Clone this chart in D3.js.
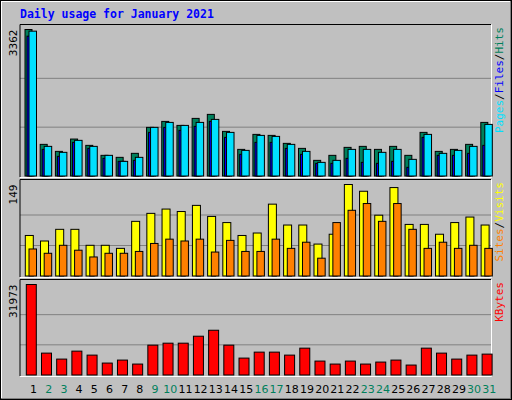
<!DOCTYPE html>
<html><head><meta charset="utf-8">
<script src="https://cdn.jsdelivr.net/npm/d3@7"></script>
<style>body{margin:0;background:#c0c0c0}</style></head>
<body><svg id="c" width="512" height="400"></svg>
<script>
const days = d3.range(1,32);
const weekends = [2,3,9,10,16,17,23,24,30,31];
const hits  = [3362,726,565,848,703,474,428,520,1116,1253,1161,1322,1414,1024,611,955,932,749,634,359,474,657,680,611,680,474,1001,565,611,726,1230];
const pages = [3324,680,543,818,680,474,336,428,1116,1230,1161,1230,1299,1001,588,932,909,726,565,313,359,611,611,543,611,382,955,520,588,680,1184];
const files = [3209,611,451,772,634,405,336,359,1001,1116,1047,1139,1253,886,497,772,772,634,497,290,290,405,313,290,336,199,886,474,474,520,703];
const visits= [66,57,76,76,50,50,45,89,102,109,105,115,97,87,66,70,117,83,83,52,68,149,138,99,144,84,84,68,87,96,83];
const sites = [44,37,50,42,31,37,37,40,53,60,57,60,39,58,40,40,60,45,55,29,87,107,118,89,118,76,45,55,45,50,45];
const kbytes= [31973,7730,5622,8433,7027,4216,5270,3865,10540,11243,11243,13703,15810,10540,5973,8081,8081,7027,9486,4919,3865,4919,3865,4567,5270,3513,9486,7730,5622,7027,7378];
const maxHits=3362, maxVisits=149, maxKB=31973;

const svg=d3.select("#c");
// outer 3D frame
svg.append("rect").attr("x",0).attr("y",0).attr("width",512).attr("height",400).attr("fill","#c0c0c0");
svg.append("path").attr("d","M1,399V1H511").attr("stroke","#fff").attr("fill","none").attr("stroke-width",2);
svg.append("path").attr("d","M1,399H511V1").attr("stroke","#808080").attr("fill","none").attr("stroke-width",2);
svg.append("rect").attr("x",0.5).attr("y",0.5).attr("width",511).attr("height",399).attr("fill","none").attr("stroke","#000");

svg.append("text").attr("x",20).attr("y",18).text("Daily usage for January 2021")
 .attr("font-family","DejaVu Sans Mono").attr("font-weight","bold").attr("font-size",11.5).attr("fill","#0000ff");

const x=d3.scaleBand().domain(days).range([20,491]).padding(0);
const L=20,R=491;
function panel(top,bot,max,label,ticks){
  const y=d3.scaleLinear().domain([0,max]).range([bot,top]);
  svg.append("rect").attr("x",L).attr("y",top-5).attr("width",R-L).attr("height",bot-top+6).attr("fill","#c0c0c0");
  [max/3,2*max/3].forEach(v=>svg.append("line").attr("x1",L).attr("x2",R).attr("y1",y(v)).attr("y2",y(v)).attr("stroke","#808080"));
  // frame
  svg.append("path").attr("d",`M${L},${bot+1}V${top-5}H${R}`).attr("stroke","#000").attr("fill","none");
  svg.append("path").attr("d",`M${L},${bot+1.5}H${R+0.5}V${top-5}`).attr("stroke","#fff").attr("fill","none");
  svg.append("text").attr("transform",`translate(17,${top}) rotate(-90)`).attr("text-anchor","end")
    .attr("font-family","DejaVu Sans").attr("font-size",10.5).text(label);
  return y;
}
function bars(y,data,off,w,color){
  svg.append("g").selectAll("rect").data(data).join("rect")
   .attr("x",(d,i)=>x(days[i])+off).attr("width",w)
   .attr("y",d=>y(d)).attr("height",d=>y(0)-y(d))
   .attr("fill",color).attr("stroke","#000").attr("stroke-width",1);
}
const y1=panel(29.5,176,maxHits,"3362");
bars(y1,hits,5,7,"#00805c");
bars(y1,files,7,7,"#0000ff");
bars(y1,pages,9,7.5,"#00e0ff");
const y2=panel(184.5,276,maxVisits,"149");
bars(y2,visits,5.3,8,"#ffff00");
bars(y2,sites,9,7.5,"#ff8000");
const y3=panel(284.5,375,maxKB,"31973");
bars(y3,kbytes,6.3,10,"#ff0000");

// right legends
function legend(yStart,parts){
  const t=svg.append("text").attr("transform",`translate(503,${yStart}) rotate(-90)`).attr("text-anchor","end")
   .attr("font-family","DejaVu Sans Mono").attr("font-size",11);
  parts.forEach(p=>t.append("tspan").attr("fill",p[1]).text(p[0]));
}
legend(27,[["Pages","#00e0ff"],["/","#000"],["Files","#0000ff"],["/","#000"],["Hits","#00805c"]]);
legend(182,[["Sites","#ff8000"],["/","#000"],["Visits","#ffff00"]]);
legend(282,[["KBytes","#ff0000"]]);

svg.append("g").selectAll("text").data(days).join("text")
 .attr("x",d=>x(d)+13.5).attr("y",393).attr("text-anchor","middle")
 .attr("font-family","DejaVu Sans").attr("font-size",11)
 .attr("fill",d=>weekends.includes(d)?"#00805c":"#000").text(d=>d);
</script></body></html>
